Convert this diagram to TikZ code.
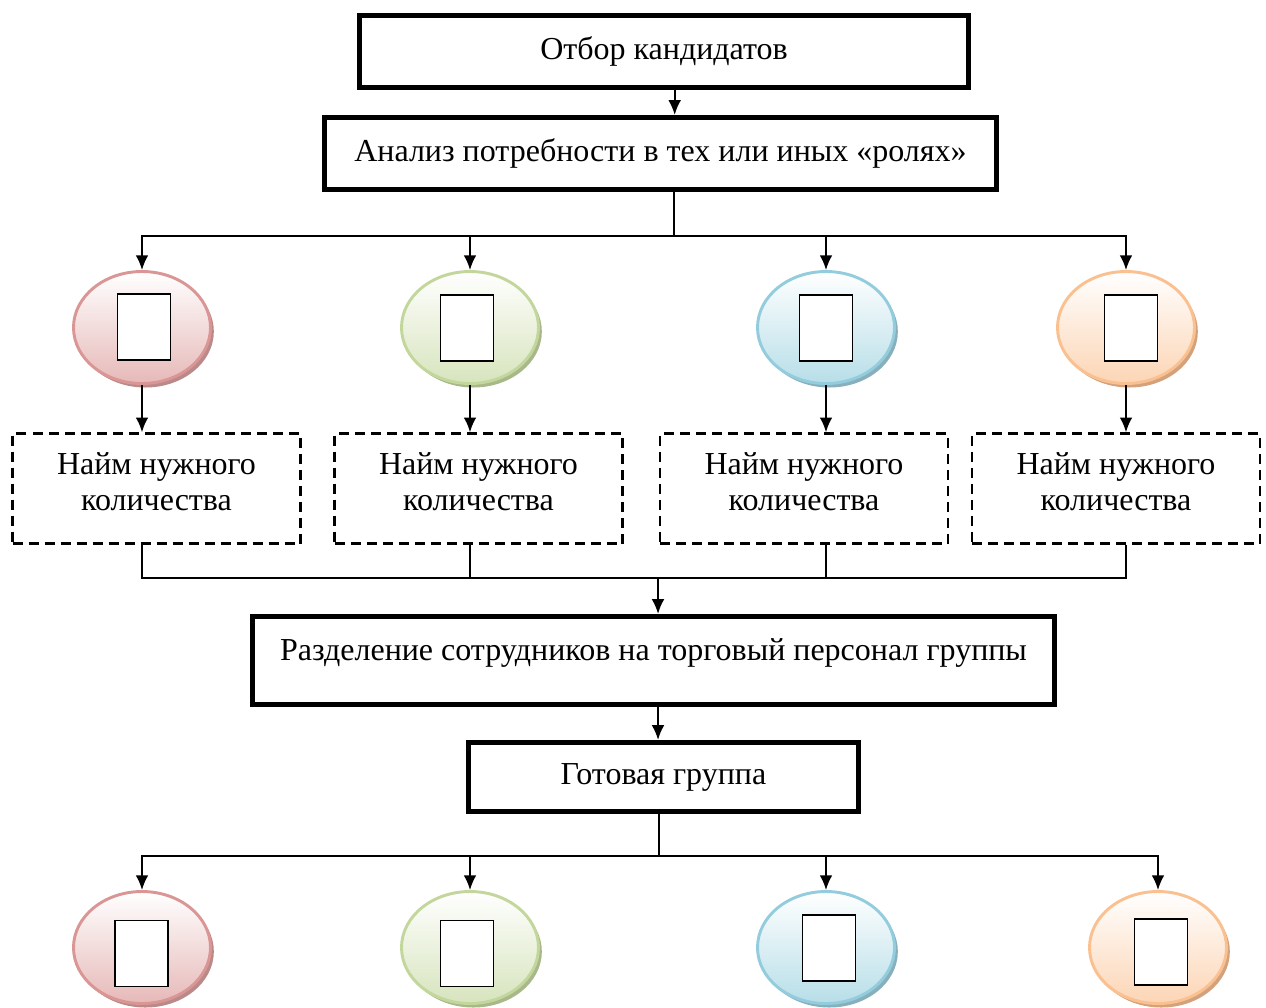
\documentclass[tikz,border=0pt]{standalone}
\usepackage{fontspec}
\setmainfont{Liberation Serif}
\usetikzlibrary{arrows.meta,shapes.geometric,shadows}
\definecolor{redline}{HTML}{D99694}
\definecolor{redfill}{HTML}{E6B9B8}
\definecolor{redshade}{HTML}{B98A89}
\definecolor{greenline}{HTML}{C3D69B}
\definecolor{greenfill}{HTML}{D7E4BD}
\definecolor{greenshade}{HTML}{A8B88A}
\definecolor{blueline}{HTML}{93CDDD}
\definecolor{bluefill}{HTML}{B7DEE8}
\definecolor{blueshade}{HTML}{88B0BC}
\definecolor{orangeline}{HTML}{FAC090}
\definecolor{orangefill}{HTML}{FCD5B5}
\definecolor{orangeshade}{HTML}{D3A27C}
\tikzset{
  mainbox/.style={draw, line width=3.9pt, rectangle, inner sep=0pt},
  hirebox/.style={draw, dashed, dash pattern=on 7.5pt off 4.5pt, line width=1.9pt,
    minimum width=216pt, minimum height=82.5pt, align=center, inner sep=0pt, text depth=10pt},
  role/.style={ellipse, draw=#1line, line width=2.2pt, top color=white, bottom color=#1fill,
    minimum width=102.75pt, minimum height=84pt,
    drop shadow={shadow xshift=2.5pt, shadow yshift=-3pt, fill=#1shade, opacity=1}},
  glyph/.style={draw, fill=white, line width=1.3pt, minimum width=39.75pt, minimum height=49.5pt, inner sep=0pt},
  arr/.style={-{Latex[length=11pt, width=9.5pt]}, line width=1.4pt},
  bus/.style={line width=1.4pt}
}
\begin{document}
\begin{tikzpicture}[x=0.75pt, y=-0.75pt, font=\fontsize{24}{27}\selectfont]
      \useasboundingbox (0, 0) rectangle (1266, 1007);
      \clip (0, 0) rectangle (1266, 1007);

      \node [mainbox, minimum width=456.75pt, minimum height=54pt] (b1) at (664, 51.5) {Отбор кандидатов};
      \node [mainbox, minimum width=504pt, minimum height=54pt] (b2) at (660.5, 153.5) {Анализ потребности в тех или иных «ролях»};

      % roles
      \node [role=red] (e1) at (142, 327.5) {};
      \node [role=green] (e2) at (470, 327.5) {};
      \node [role=blue] (e3) at (826, 327.5) {};
      \node [role=orange] (e4) at (1126, 327.5) {};
      \node [glyph] (g1) at (144, 327) {};
      \node [glyph] (g2) at (467, 328) {};
      \node [glyph] (g3) at (826, 328) {};
      \node [glyph] (g4) at (1131, 328) {};

      \node [hirebox] (d1) at (156.5, 488.5) {Найм нужного\\количества};
      \node [hirebox] (d2) at (478.5, 488.5) {Найм нужного\\количества};
      \node [hirebox] (d3) at (804, 488.5) {Найм нужного\\количества};
      \node [hirebox] (d4) at (1116, 488.5) {Найм нужного\\количества};

      \node [mainbox, minimum width=601.5pt, minimum height=66pt, text height=15pt, text depth=15pt] (b3) at (653.5, 660.5) {Разделение сотрудников на торговый персонал группы};
      \node [mainbox, minimum width=292.5pt, minimum height=51.75pt] (b4) at (663.5, 777) {Готовая группа};

      % bottom roles
      \node [role=red] (f1) at (142, 947.5) {};
      \node [role=green] (f2) at (470, 947.5) {};
      \node [role=blue] (f3) at (826, 947.5) {};
      \node [role=orange] (f4) at (1158, 947.5) {};
      \node [glyph] (h1) at (141.5, 953.5) {};
      \node [glyph] (h2) at (467, 953.5) {};
      \node [glyph] (h3) at (829, 948) {};
      \node [glyph] (h4) at (1161, 952) {};

      % connectors
      \coordinate (split1) at (674, 236);
      \coordinate (join) at (658, 578);
      \coordinate (split2) at (659, 856);

      \draw [arr] ([xshift=8pt]b1.south) -- ([xshift=8pt]b1.south |- b2.north);
      \draw [bus] (split1 |- b2.south) -- (split1);
      \draw [arr] (split1) -| (e1.north);
      \draw [arr] (split1) -| (e2.north);
      \draw [arr] (split1) -| (e3.north);
      \draw [arr] (split1) -| (e4.north);

      \draw [arr] (e1.south) -- (e1.south |- d1.north);
      \draw [arr] (e2.south) -- (e2.south |- d2.north);
      \draw [arr] (e3.south) -- (e3.south |- d3.north);
      \draw [arr] (e4.south) -- (e4.south |- d4.north);

      \draw [bus] (e1 |- d1.south) |- (join);
      \draw [bus] (e2 |- d2.south) |- (join);
      \draw [bus] (e3 |- d3.south) |- (join);
      \draw [bus] (e4 |- d4.south) |- (join);
      \draw [arr] (join) -- (join |- b3.north);

      \draw [arr] (join |- b3.south) -- (join |- b4.north);

      \draw [bus] (split2 |- b4.south) -- (split2);
      \draw [arr] (split2) -| (f1.north);
      \draw [arr] (split2) -| (f2.north);
      \draw [arr] (split2) -| (f3.north);
      \draw [arr] (split2) -| (f4.north);

    \end{tikzpicture}
\end{document}
